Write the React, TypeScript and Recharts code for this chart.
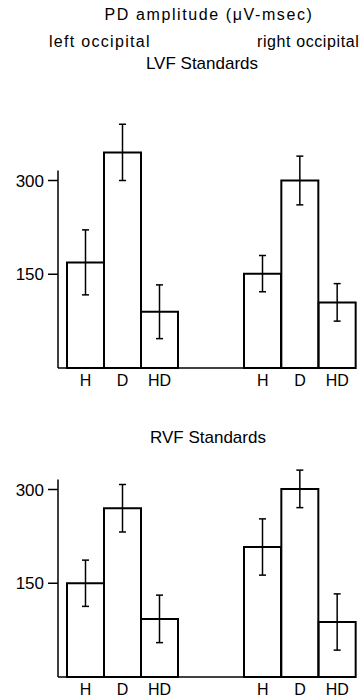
import { Bar, BarChart, ErrorBar, XAxis, YAxis } from 'recharts'

const categories = ['H', 'D', 'HD']
const lvfLeft = [169, 345, 90]
const lvfLeftErr = [52, 45, 43]
const lvfRight = [151, 300, 105]
const lvfRightErr = [29, 39, 30]
const rvfLeft = [150, 270, 93]
const rvfLeftErr = [37, 38, 38]
const rvfRight = [208, 301, 88]
const rvfRightErr = [45, 30, 45]
const yTicks = [150, 300]

const Y_MAX = 400
const AXIS_TOP = 316 // y-axis line stops a bit above the 300 tick
const PLOT_H = 250
const CHART_H = 290
const FONT = '"Liberation Sans", Arial, sans-serif'

function Panel({ values, errs, left, top, width, withAxis }: {
    values: number[], errs: number[], left: number, top: number, width: number, withAxis: boolean
}) {
    const data = categories.map((cat, i) => ({ cat, v: values[i], err: errs[i] }))
    const gap = PLOT_H * (1 - AXIS_TOP / Y_MAX)
    return (
        <div style={{ position: 'absolute', left, top }}>
            <BarChart
                width={width}
                height={CHART_H}
                data={data}
                barCategoryGap={0}
                margin={{ top: 18, right: withAxis ? 0 : 7, bottom: 0, left: 0 }}
            >
                <XAxis
                    dataKey="cat"
                    interval={0}
                    tickLine={false}
                    axisLine={{ stroke: '#000', strokeWidth: 1.5 }}
                    tick={{ fill: '#000', fontSize: 16 }}
                    tickMargin={1}
                    padding={withAxis ? { left: 9, right: 33 } : { left: 33, right: 0 }}
                    height={22}
                />
                {withAxis ? (
                    <YAxis
                        width={58}
                        domain={[0, Y_MAX]}
                        ticks={yTicks}
                        interval={0}
                        tickSize={10}
                        tickMargin={4}
                        axisLine={{ stroke: '#000', strokeWidth: 1.5, strokeDasharray: `0 ${gap} 1000` }}
                        tickLine={{ stroke: '#000', strokeWidth: 1.5 }}
                        tick={{ fill: '#000', fontSize: 17 }}
                    />
                ) : (
                    <YAxis hide domain={[0, Y_MAX]} />
                )}
                <Bar dataKey="v" fill="#fff" stroke="#000" strokeWidth={2} isAnimationActive={false}>
                    <ErrorBar dataKey="err" direction="y" width={3.5} stroke="#000" strokeWidth={1.5} />
                </Bar>
            </BarChart>
        </div>
    )
}

function Label({ text, x, y, size, spacing = 0, center = false }: {
    text: string, x: number, y: number, size: number, spacing?: number, center?: boolean
}) {
    return (
        <div style={{
            position: 'absolute',
            left: center ? x - 150 : x,
            width: center ? 300 : undefined,
            textAlign: center ? 'center' : 'left',
            top: y - size / 2,
            fontSize: size,
            lineHeight: `${size}px`,
            letterSpacing: spacing,
            whiteSpace: 'nowrap',
            color: '#000'
        }}>
            {text}
        </div>
    )
}

export default function App() {
    return (
        <div style={{ position: 'absolute', left: 0, top: 0, width: 363, height: 699, background: '#fff', fontFamily: FONT, overflow: 'hidden' }}>
            <Label text="PD amplitude (μV-msec)" x={209} y={15} size={16} spacing={1.6} center />
            <Label text="left occipital" x={49} y={42} size={16} spacing={1.3} />
            <Label text="right occipital" x={257} y={42} size={16} spacing={0.6} />
            <Label text="LVF Standards" x={202} y={63} size={17} center />
            <Label text="RVF Standards" x={208} y={437} size={17} center />

            <Panel values={lvfLeft} errs={lvfLeftErr} left={0} top={100} width={211} withAxis />
            <Panel values={lvfRight} errs={lvfRightErr} left={211} top={100} width={152} withAxis={false} />
            <Panel values={rvfLeft} errs={rvfLeftErr} left={0} top={408.5} width={211} withAxis />
            <Panel values={rvfRight} errs={rvfRightErr} left={211} top={408.5} width={152} withAxis={false} />
        </div>
    )
}
